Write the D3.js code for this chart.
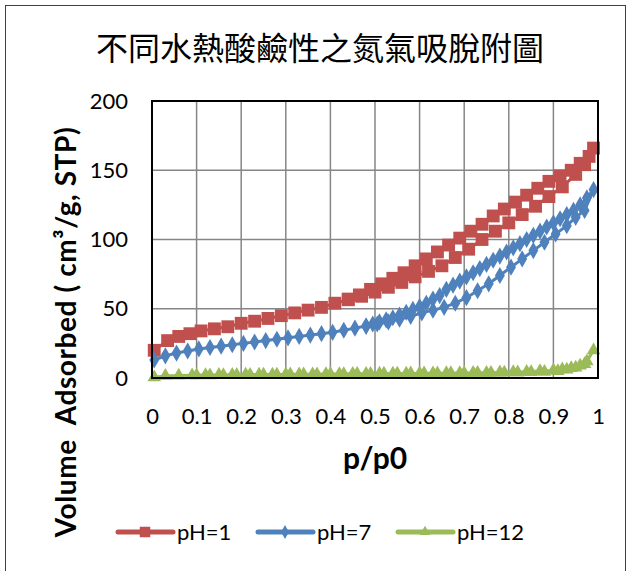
<!DOCTYPE html>
<html>
<head>
<meta charset="utf-8">
<script src="https://cdn.jsdelivr.net/npm/d3@7"></script>
<style>
  body { margin: 0; background: #fff; }
  text { font-family: Lato, "Noto Sans", sans-serif; fill: #000; }
  .title { font-family: "Noto Sans CJK TC", sans-serif; }
</style>
</head>
<body>
<svg id="chart" width="629" height="571">
  <g id="grid"></g>
  <g id="lines"></g>
  <g id="x_axis"></g>
  <g id="y_axis"></g>
  <g id="legend"></g>
</svg>
<script>
// pH=1 : adsorption then desorption branch
let ph1_p = [0.005,0.035,0.06,0.085,0.11,0.14,0.17,0.2,0.23,0.26,0.29,0.32,0.35,0.38,0.41,0.44,0.47,0.5,0.53,0.56,0.59,0.62,0.65,0.68,0.71,0.74,0.77,0.8,0.83,0.86,0.89,0.92,0.95,0.97,0.99,
  0.98,0.96,0.94,0.915,0.89,0.865,0.84,0.815,0.79,0.765,0.74,0.715,0.69,0.665,0.64,0.615,0.59,0.565,0.54,0.515,0.49,0.465,0.44]
let ph1_v = [20,27,30,32,34,35.5,37,39.5,41,43,45,47,49,51,54,56.5,59,62,65.5,69,73,77,81,87,93,100,106,112,118,124,131,138,147,154,166,
  160,155,150,146,142,137,132,127,122,117,111,106,101,96,91,86,81,76,72,68,64,60,57]

// pH=7
let ph7_p = [0.005,0.03,0.055,0.08,0.105,0.13,0.155,0.18,0.205,0.23,0.255,0.28,0.305,0.33,0.355,0.38,0.405,0.43,0.455,0.48,0.505,0.53,0.555,0.58,0.605,0.63,0.655,0.68,0.705,0.73,0.755,0.78,0.805,0.83,0.855,0.88,0.905,0.93,0.95,0.97,0.99,
  0.975,0.96,0.945,0.93,0.915,0.9,0.885,0.87,0.855,0.84,0.825,0.81,0.795,0.78,0.765,0.75,0.735,0.72,0.705,0.69,0.675,0.66,0.645,0.63,0.615,0.6,0.585,0.57,0.555,0.54,0.525,0.51,0.495,0.48]
let ph7_v = [13,16,18,19.5,21,22,23,24,25,26,27,28,29,30,31,32,33,34.5,36,37.5,39,40.5,42.5,44.5,47,49,51,54,58,63,68,74,80,86,92,98,104,110,116,121,136,
  130,125,121,118,115,112,109,106,103,100,97,94,91,88,85,82,79,76,73,70,67,64,59.5,57,54,51.5,49.5,47.5,45.5,43.5,42,40.5,39,37.5]

// pH=12
let ph12_p = [0.005,0.03,0.06,0.09,0.12,0.15,0.18,0.21,0.24,0.27,0.3,0.33,0.36,0.39,0.42,0.45,0.48,0.51,0.54,0.57,0.6,0.63,0.66,0.69,0.72,0.75,0.78,0.81,0.84,0.87,0.9,0.92,0.94,0.96,0.975,0.99,
  0.97,0.95,0.93,0.91,0.88,0.85,0.82,0.79,0.76,0.73,0.7,0.67,0.64,0.61,0.58,0.55,0.52,0.49,0.46,0.43,0.4,0.37,0.34,0.31,0.28,0.25,0.22,0.19,0.16,0.13,0.1]
let ph12_v = [0.5,1.5,1.8,2,2.1,2.2,2.3,2.4,2.5,2.5,2.6,2.7,2.7,2.8,2.9,3,3,3.1,3.2,3.2,3.3,3.4,3.5,3.6,3.7,3.8,4,4.2,4.5,5,5.5,6.3,7.2,9,12,20,
  10,7.5,6,5,4.5,4.2,4,3.9,3.8,3.7,3.6,3.5,3.4,3.3,3.3,3.2,3.1,3,3,2.9,2.8,2.7,2.6,2.6,2.5,2.4,2.3,2.2,2.1,2,1.9]

let x_ticks = [0,0.1,0.2,0.3,0.4,0.5,0.6,0.7,0.8,0.9,1]
let y_ticks = [0,50,100,150,200]
let series_names = ["pH=1", "pH=7", "pH=12"]
let series_colors = ["#C0504D", "#4F81BD", "#9BBB59"]

let series = [
  {name: series_names[0], color: series_colors[0], symbol: d3.symbolSquare, size: 165, key_size: 110,
   values: ph1_p.map((p, i) => ({p: p, v: ph1_v[i]}))},
  {name: series_names[1], color: series_colors[1], symbol: d3.symbolDiamond, size: 85, key_size: 55,
   values: ph7_p.map((p, i) => ({p: p, v: ph7_v[i]}))},
  {name: series_names[2], color: series_colors[2], symbol: d3.symbolTriangle, size: 80, key_size: 50,
   values: ph12_p.map((p, i) => ({p: p, v: ph12_v[i]}))}
]

let margin = {top: 101, right: 31, bottom: 193, left: 152}
let width = 629, height = 571

function make_scales() {
  return {
    x: d3.scaleLinear().domain([0, 1]).range([margin.left, width - margin.right]),
    y: d3.scaleLinear().domain([0, 200]).range([height - margin.bottom, margin.top])
  }
}

function draw_grid(scales) {
  let g = d3.select("#grid")
  g.selectAll("line.h").data(y_ticks.slice(1, -1)).enter()
    .append("line")
    .attr("x1", margin.left).attr("x2", width - margin.right)
    .attr("y1", d => scales.y(d)).attr("y2", d => scales.y(d))
    .attr("stroke", "#868686").attr("stroke-width", 1.5)
  g.selectAll("line.v").data(x_ticks.slice(1, -1)).enter()
    .append("line")
    .attr("y1", margin.top).attr("y2", height - margin.bottom)
    .attr("x1", d => scales.x(d)).attr("x2", d => scales.x(d))
    .attr("stroke", "#868686").attr("stroke-width", 1.5)
}

function draw_lines(scales) {
  let path_generator = d3.line()
    .x(d => scales.x(d.p))
    .y(d => scales.y(d.v))

  let groups = d3.select("#lines")
    .selectAll("g")
    .data(series).enter()
    .append("g")

  groups.append("path")
    .attr("d", d => path_generator(d.values))
    .attr("fill", "none")
    .attr("stroke", d => d.color)
    .attr("stroke-width", 3)
    .attr("stroke-linejoin", "round")

  groups.each(function (s) {
    d3.select(this).selectAll("path.mark")
      .data(s.values).enter()
      .append("path")
      .attr("class", "mark")
      .attr("d", d3.symbol().type(s.symbol).size(s.size))
      .attr("transform", d => `translate(${scales.x(d.p)},${scales.y(d.v)})`)
      .attr("fill", s.color)
  })
}

function draw_axes(scales) {
  // plot frame
  d3.select("#x_axis").append("rect")
    .attr("x", margin.left).attr("y", margin.top)
    .attr("width", width - margin.right - margin.left)
    .attr("height", height - margin.bottom - margin.top)
    .attr("fill", "none").attr("stroke", "#000").attr("stroke-width", 2)

  let x_axis = d3.axisBottom(scales.x)
    .tickValues(x_ticks).tickSize(0).tickPadding(30)
    .tickFormat(d => d)
  d3.select("#x_axis").append("g")
    .attr("transform", `translate(0, ${height - margin.bottom})`)
    .call(x_axis)
    .call(g => g.select(".domain").remove())
    .selectAll("text").attr("font-size", 22).attr("font-family", null)

  let y_axis = d3.axisLeft(scales.y)
    .tickValues(y_ticks).tickSize(0).tickPadding(24)
  d3.select("#y_axis").append("g")
    .attr("transform", `translate(${margin.left}, 0)`)
    .call(y_axis)
    .call(g => g.select(".domain").remove())
    .selectAll("text").attr("font-size", 22).attr("font-family", null)

  d3.select("#x_axis").append("text")
    .attr("x", 375).attr("y", 469)
    .attr("text-anchor", "middle")
    .attr("font-size", 30).attr("font-weight", "bold")
    .text("p/p0")

  d3.select("#y_axis").append("text")
    .attr("transform", "translate(76, 332) rotate(-90)")
    .attr("text-anchor", "middle")
    .attr("font-size", 28).attr("font-weight", "bold")
    .attr("letter-spacing", 0.6)
    .style("white-space", "pre")
    .text("Volume  Adsorbed ( cm³/g, STP)")
}

function draw_legend() {
  let items = d3.select("#legend")
    .selectAll("g")
    .data(series).enter()
    .append("g")
    .attr("transform", (d, i) => `translate(${118 + i * 140}, 532)`)

  items.append("line")
    .attr("x1", 0).attr("x2", 55)
    .attr("stroke", d => d.color).attr("stroke-width", 5)
    .attr("stroke-linecap", "round")
  items.append("path")
    .attr("d", d => d3.symbol().type(d.symbol).size(d.key_size)())
    .attr("transform", "translate(27, 0)")
    .attr("fill", d => d.color)
  items.append("text")
    .attr("x", 59).attr("y", 8)
    .attr("font-size", 22)
    .text(d => d.name)
}

function visualize() {
  let svg = d3.select("#chart")
  svg.insert("rect", ":first-child")
    .attr("x", 5.5).attr("y", 5.5).attr("width", 620).attr("height", 600)
    .attr("fill", "#fff").attr("stroke", "#404040").attr("stroke-width", 1)

  svg.append("text")
    .attr("class", "title")
    .attr("x", 320).attr("y", 60)
    .attr("text-anchor", "middle")
    .attr("font-size", 32)
    .text("不同水熱酸鹼性之氮氣吸脫附圖")

  let scales = make_scales()
  draw_grid(scales)
  draw_lines(scales)
  draw_axes(scales)
  draw_legend()
}

visualize()
</script>
</body>
</html>
